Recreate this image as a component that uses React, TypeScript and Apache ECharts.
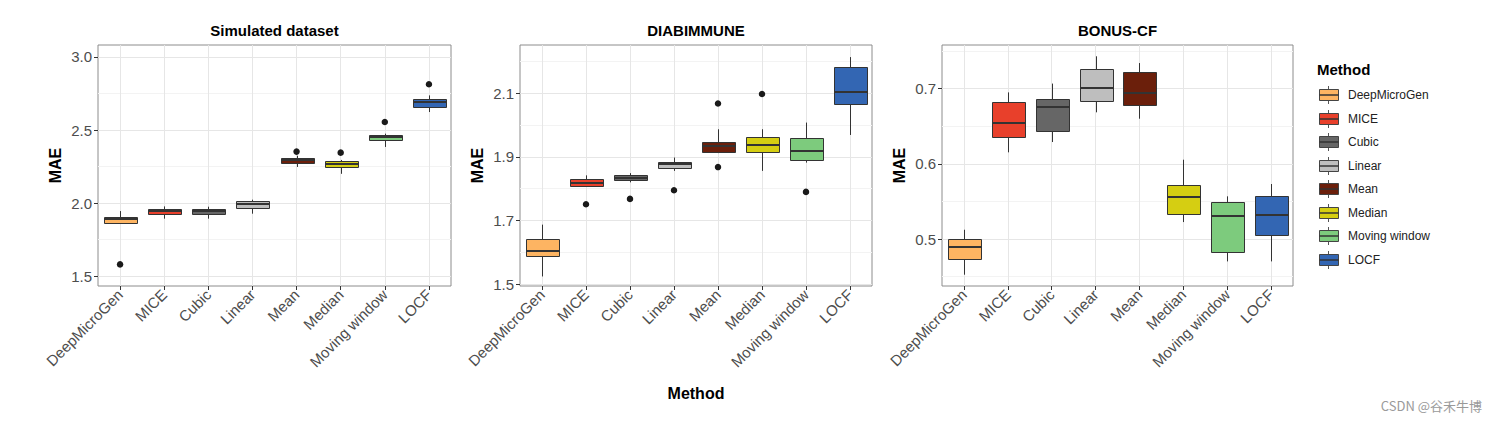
import { useEffect, useRef } from "react";
import * as echarts from "echarts";

const FONT = '"Liberation Sans", Arial, Helvetica, sans-serif';

const methods = ["DeepMicroGen", "MICE", "Cubic", "Linear", "Mean", "Median", "Moving window", "LOCF"];
const methodColors = ["#FDB462", "#E8402B", "#666666", "#BEBEBE", "#6B1F0B", "#D5CE12", "#7DCB7D", "#3366B3"];

// [min, Q1, median, Q3, max]
const simBoxes = [
  [1.86, 1.865, 1.888, 1.905, 1.945],
  [1.893, 1.922, 1.943, 1.962, 1.977],
  [1.893, 1.922, 1.943, 1.962, 1.975],
  [1.927, 1.965, 1.995, 2.015, 2.023],
  [2.247, 2.276, 2.295, 2.31, 2.324],
  [2.2, 2.25, 2.267, 2.29, 2.295],
  [2.384, 2.43, 2.452, 2.468, 2.475],
  [2.623, 2.66, 2.69, 2.715, 2.737],
];
const simOutliers = [[0, 1.58], [4, 2.352], [5, 2.345], [6, 2.555], [7, 2.813]];
const simRange = [1.432, 3.082];
const simTicks = [1.5, 2.0, 2.5, 3.0];

const diaBoxes = [
  [1.524, 1.587, 1.605, 1.642, 1.687],
  [1.806, 1.809, 1.819, 1.829, 1.842],
  [1.82, 1.826, 1.835, 1.842, 1.849],
  [1.856, 1.864, 1.877, 1.884, 1.898],
  [1.912, 1.915, 1.935, 1.948, 1.987],
  [1.856, 1.915, 1.937, 1.963, 1.987],
  [1.882, 1.89, 1.919, 1.958, 2.008],
  [1.969, 2.066, 2.105, 2.184, 2.214],
];
const diaOutliers = [[1, 1.751], [2, 1.768], [3, 1.795], [4, 2.068], [4, 1.868], [5, 2.098], [6, 1.79]];
const diaRange = [1.494, 2.252];
const diaTicks = [1.5, 1.7, 1.9, 2.1];

const bonusBoxes = [
  [0.4526, 0.4734, 0.489, 0.5, 0.5124],
  [0.6153, 0.6353, 0.6543, 0.6818, 0.695],
  [0.629, 0.6441, 0.6752, 0.6867, 0.7067],
  [0.6685, 0.684, 0.7004, 0.7266, 0.743],
  [0.66, 0.6778, 0.6942, 0.7217, 0.734],
  [0.5226, 0.5333, 0.5554, 0.5723, 0.6055],
  [0.4703, 0.4823, 0.5302, 0.5488, 0.5568],
  [0.4703, 0.5058, 0.5324, 0.5568, 0.5732],
];
const bonusOutliers: number[][] = [];
const bonusRange = [0.4376, 0.758];
const bonusTicks = [0.5, 0.6, 0.7];

const panelTitles = ["Simulated dataset", "DIABIMMUNE", "BONUS-CF"];

function App() {
  const ref = useRef<HTMLDivElement>(null);

  useEffect(() => {
    const chart = echarts.init(ref.current!, null, { renderer: "svg" });

    const panels = [
      { title: panelTitles[0], boxes: simBoxes, outliers: simOutliers, range: simRange, ticks: simTicks, left: 98, width: 353 },
      { title: panelTitles[1], boxes: diaBoxes, outliers: diaOutliers, range: diaRange, ticks: diaTicks, left: 520, width: 352 },
      { title: panelTitles[2], boxes: bonusBoxes, outliers: bonusOutliers, range: bonusRange, ticks: bonusTicks, left: 942, width: 351 },
    ];
    const TOP = 45;
    const HEIGHT = 241;
    const BOXW = 33;
    const LINE = "#333333";
    const gridColor = "#e6e6e6";
    const minorColor = "#f3f3f3";

    const grids = panels.map((p) => ({
      left: p.left,
      top: TOP,
      width: p.width,
      height: HEIGHT,
      show: true,
      backgroundColor: "#ffffff",
      borderColor: "#8c8c8c",
      borderWidth: 1,
      containLabel: false,
    }));

    const xAxes = panels.map((_p, i) => ({
      type: "category",
      gridIndex: i,
      data: methods,
      boundaryGap: true,
      axisLine: { show: false },
      axisTick: { show: true, alignWithLabel: true, length: 4, lineStyle: { color: LINE } },
      axisLabel: {
        rotate: 45,
        interval: 0,
        color: "#4d4d4d",
        fontSize: 15,
        fontFamily: FONT,
        margin: 6,
      },
      splitLine: { show: false },
      name: i === 1 ? "Method" : "",
      nameLocation: "middle",
      nameGap: 99,
      nameTextStyle: { fontWeight: "bold", fontSize: 16, color: "#000", fontFamily: FONT },
    }));

    const yAxes = panels.map((p, i) => ({
      type: "value",
      gridIndex: i,
      min: p.range[0],
      max: p.range[1],
      axisLine: { show: false },
      axisTick: { show: true, length: 4, lineStyle: { color: LINE }, customValues: p.ticks },
      axisLabel: {
        color: "#4d4d4d",
        fontSize: 15,
        fontFamily: FONT,
        margin: 6,
        customValues: p.ticks,
        formatter: (v: number) => v.toFixed(1),
      },
      splitLine: { show: false },
      name: "MAE",
      nameLocation: "middle",
      nameRotate: 90,
      nameGap: 35,
      nameTextStyle: { fontWeight: "bold", fontSize: 16, color: "#000", fontFamily: FONT },
    }));

    const series: any[] = [];
    panels.forEach((p, i) => {
      const step = p.ticks[1] - p.ticks[0];
      const minors = [...p.ticks.map((t) => t - step / 2), p.ticks[p.ticks.length - 1] + step / 2].filter(
        (v) => v > p.range[0] && v < p.range[1]
      );
      series.push({
        type: "scatter",
        xAxisIndex: i,
        yAxisIndex: i,
        data: [],
        z: 1,
        silent: true,
        markLine: {
          silent: true,
          z: 1,
          symbol: "none",
          label: { show: false },
          lineStyle: { color: gridColor, width: 1, type: "solid" },
          data: [
            ...minors.map((v) => ({ yAxis: v, lineStyle: { color: minorColor, width: 1, type: "solid" } })),
            ...p.ticks.map((v) => ({ yAxis: v, lineStyle: { color: gridColor, width: 1, type: "solid" } })),
            ...methods.map((m) => ({ xAxis: m, lineStyle: { color: gridColor, width: 1, type: "solid" } })),
          ],
        },
      });
      series.push({
        type: "custom",
        xAxisIndex: i,
        yAxisIndex: i,
        z: 3,
        silent: true,
        encode: { x: 0, y: [1, 2, 3, 4, 5] },
        data: p.boxes.map((b, k) => [k, ...b]),
        renderItem: (params: any, api: any) => {
          const x = api.value(0);
          const lo = api.coord([x, api.value(1)]);
          const q1 = api.coord([x, api.value(2)]);
          const md = api.coord([x, api.value(3)]);
          const q3 = api.coord([x, api.value(4)]);
          const hi = api.coord([x, api.value(5)]);
          const cx = Math.round(lo[0]) + 0.5;
          const half = BOXW / 2;
          const bx = Math.round(cx - half) + 0.5;
          const yTop = Math.round(q3[1]) + 0.5;
          const yBot = Math.round(q1[1]) + 0.5;
          const ym = Math.round(md[1]);
          return {
            type: "group",
            children: [
              { type: "line", shape: { x1: cx, y1: hi[1], x2: cx, y2: yTop }, style: { stroke: LINE, lineWidth: 1 } },
              { type: "line", shape: { x1: cx, y1: yBot, x2: cx, y2: lo[1] }, style: { stroke: LINE, lineWidth: 1 } },
              {
                type: "rect",
                shape: { x: bx, y: yTop, width: BOXW, height: Math.max(yBot - yTop, 1) },
                style: { fill: methodColors[params.dataIndex], stroke: LINE, lineWidth: 1 },
              },
              {
                type: "line",
                shape: { x1: bx, y1: ym, x2: bx + BOXW, y2: ym },
                style: { stroke: LINE, lineWidth: 2 },
              },
            ],
          };
        },
      });
      series.push({
        type: "scatter",
        xAxisIndex: i,
        yAxisIndex: i,
        z: 4,
        symbol: "circle",
        symbolSize: 6.5,
        itemStyle: { color: "#1a1a1a", opacity: 1, borderWidth: 0 },
        data: p.outliers,
      });
    });

    const graphics: any[] = [];
    panels.forEach((p) => {
      graphics.push({
        type: "text",
        x: p.left + p.width / 2,
        y: 30,
        style: {
          text: p.title,
          textAlign: "center",
          textVerticalAlign: "middle",
          font: `bold 15px ${FONT}`,
          fill: "#000",
        },
      });
    });

    // legend
    graphics.push({
      type: "text",
      x: 1317,
      y: 69,
      style: { text: "Method", textVerticalAlign: "middle", font: `bold 15px ${FONT}`, fill: "#000" },
    });
    methods.forEach((m, k) => {
      const cy = Math.round(95 + k * 23.5);
      graphics.push({
        type: "group",
        children: [
          { type: "line", shape: { x1: 1328.5, y1: cy - 9, x2: 1328.5, y2: cy + 9 }, style: { stroke: "#555", lineWidth: 1 } },
          { type: "rect", shape: { x: 1319.5, y: cy - 5.5, width: 19, height: 11 }, style: { fill: methodColors[k], stroke: "#444", lineWidth: 1 } },
          { type: "line", shape: { x1: 1319.5, y1: cy, x2: 1338.5, y2: cy }, style: { stroke: "#333", lineWidth: 1.5 } },
          { type: "text", x: 1348, y: cy, style: { text: m, textVerticalAlign: "middle", font: `12px ${FONT}`, fill: "#222" } },
        ],
      });
    });

    graphics.push({
      type: "text",
      x: 1482,
      y: 405,
      style: {
        text: "CSDN @谷禾牛博",
        textAlign: "right",
        textVerticalAlign: "middle",
        font: `13px "Noto Sans CJK SC", ${FONT}`,
        fill: "#9a9a9a",
      },
    });

    chart.setOption({
      animation: false,
      backgroundColor: "#ffffff",
      textStyle: { fontFamily: FONT },
      grid: grids,
      xAxis: xAxes,
      yAxis: yAxes,
      series,
      graphic: graphics,
    });

    return () => chart.dispose();
  }, []);

  return (
    <div
      ref={ref}
      style={{ position: "absolute", left: 0, top: 0, width: 1497, height: 423 }}
    />
  );
}

export default App;
